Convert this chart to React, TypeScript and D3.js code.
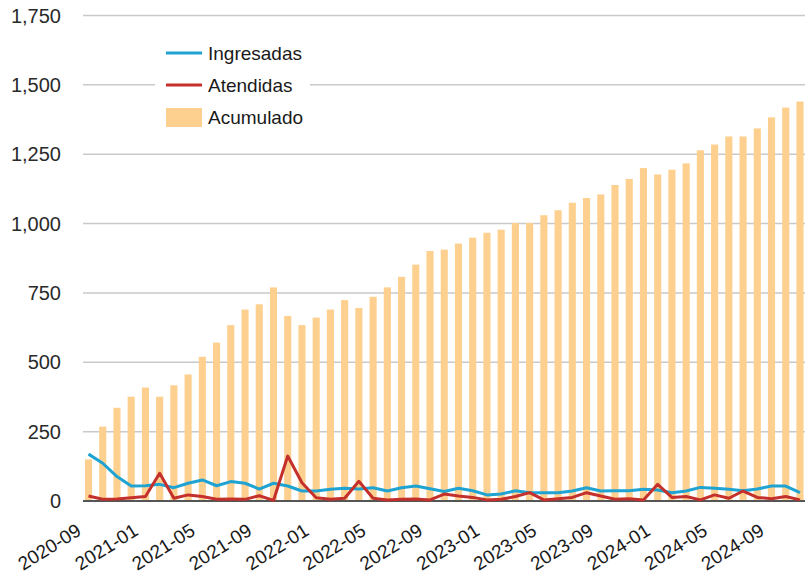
import React from "react";
import * as d3 from "d3";

const months: string[] = [
  "2020-09","2020-10","2020-11","2020-12",
  "2021-01","2021-02","2021-03","2021-04","2021-05","2021-06","2021-07","2021-08","2021-09","2021-10","2021-11","2021-12",
  "2022-01","2022-02","2022-03","2022-04","2022-05","2022-06","2022-07","2022-08","2022-09","2022-10","2022-11","2022-12",
  "2023-01","2023-02","2023-03","2023-04","2023-05","2023-06","2023-07","2023-08","2023-09","2023-10","2023-11","2023-12",
  "2024-01","2024-02","2024-03","2024-04","2024-05","2024-06","2024-07","2024-08","2024-09","2024-10","2024-11",
];

const acumulado: number[] = [
  150, 268, 336, 376, 409, 376, 417, 456, 520, 571,
  634, 690, 709, 770, 667, 634, 661, 690, 724, 696,
  736, 770, 808, 852, 901, 906, 928, 949, 967, 978,
  1002, 1002, 1030, 1048, 1075, 1092, 1105, 1139, 1161, 1200,
  1177, 1194, 1217, 1264, 1285, 1314, 1314, 1343, 1383, 1418, 1440,
];

const ingresadas: number[] = [
  169, 136, 88, 54, 55, 60, 48, 64, 76, 55,
  70, 64, 43, 64, 54, 36, 36, 42, 46, 43,
  48, 36, 48, 54, 44, 34, 46, 37, 22, 25,
  37, 30, 30, 30, 36, 48, 36, 37, 37, 42,
  40, 30, 36, 49, 46, 42, 37, 43, 54, 54, 30,
];

const atendidas: number[] = [
  18, 6, 7, 12, 16, 100, 10, 22, 16, 6,
  7, 6, 19, 2, 162, 66, 12, 6, 10, 71,
  10, 4, 6, 7, 4, 25, 18, 13, 4, 6,
  16, 30, 4, 8, 13, 30, 18, 6, 8, 4,
  60, 13, 16, 4, 22, 10, 36, 13, 8, 16, 4,
];

const xTickLabels: string[] = [
  "2020-09","2021-01","2021-05","2021-09","2022-01","2022-05","2022-09",
  "2023-01","2023-05","2023-09","2024-01","2024-05","2024-09",
];

const yTicks: number[] = [0, 250, 500, 750, 1000, 1250, 1500, 1750];

const legendItems = [
  { label: "Ingresadas", type: "line", color: "#1ea3d2" },
  { label: "Atendidas", type: "line", color: "#c4302b" },
  { label: "Acumulado", type: "rect", color: "#fdd08f" },
];

export default function App() {
  const W = 805;
  const H = 579;
  const plotLeft = 83;
  const plotRight = 805;

  const x = d3.scaleBand<string>()
    .domain(months)
    .range([81.4, 807.1])
    .paddingInner(0.5)
    .paddingOuter(0.25);
  const y = d3.scaleLinear().domain([0, 1750]).range([501, 15.5]);

  const cx = (m: string) => (x(m) as number) + x.bandwidth() / 2;
  const line = d3.line<number>()
    .x((_, i) => cx(months[i]))
    .y((d) => y(d));

  const fmt = d3.format(",");
  const font = "'Liberation Sans', Arial, Helvetica, sans-serif";

  return (
    <svg
      width={W}
      height={H}
      style={{ position: "absolute", left: 0, top: 0, background: "#fff" }}
      fontFamily={font}
    >
      {/* gridlines */}
      {yTicks.filter((t) => t > 0).map((t) => (
        <line key={t} x1={plotLeft} x2={plotRight} y1={y(t)} y2={y(t)} stroke="#c9c9c9" strokeWidth={1.5} />
      ))}
      {/* y labels */}
      {yTicks.map((t) => (
        <text key={"yl" + t} x={61} y={y(t)} textAnchor="end" dominantBaseline="central" fontSize={20} fill="#2a2a2a">
          {fmt(t)}
        </text>
      ))}
      {/* bars */}
      {months.map((m, i) => (
        <rect key={m} x={x(m)} width={x.bandwidth()} y={y(acumulado[i])} height={y(0) - y(acumulado[i])} fill="#fdd08f" />
      ))}
      {/* baseline */}
      <line x1={plotLeft} x2={plotRight} y1={y(0)} y2={y(0)} stroke="#555" strokeWidth={2} />
      {/* lines */}
      <path d={line(ingresadas) || ""} fill="none" stroke="#1ea3d2" strokeWidth={3} strokeLinejoin="round" />
      <path d={line(atendidas) || ""} fill="none" stroke="#c4302b" strokeWidth={3} strokeLinejoin="round" />
      {/* x labels */}
      {xTickLabels.map((m) => {
        const tx = cx(m) - 6;
        const ty = 534;
        return (
          <text key={"xl" + m} x={tx} y={ty} textAnchor="end" fontSize={19} fill="#1a1a1a" transform={`rotate(-32 ${tx} ${ty})`}>
            {m}
          </text>
        );
      })}
      {/* legend */}
      <rect x={155} y={35} width={155} height={100} fill="#fff" />
      {legendItems.map((it, i) => {
        const ly = [53, 85, 117][i];
        return (
          <g key={it.label}>
            {it.type === "line" ? (
              <line x1={166} x2={202} y1={ly} y2={ly} stroke={it.color} strokeWidth={3} />
            ) : (
              <rect x={166} y={ly - 9} width={36} height={19} fill={it.color} />
            )}
            <text x={208} y={ly} dominantBaseline="central" fontSize={19} fill="#1a1a1a">
              {it.label}
            </text>
          </g>
        );
      })}
    </svg>
  );
}
